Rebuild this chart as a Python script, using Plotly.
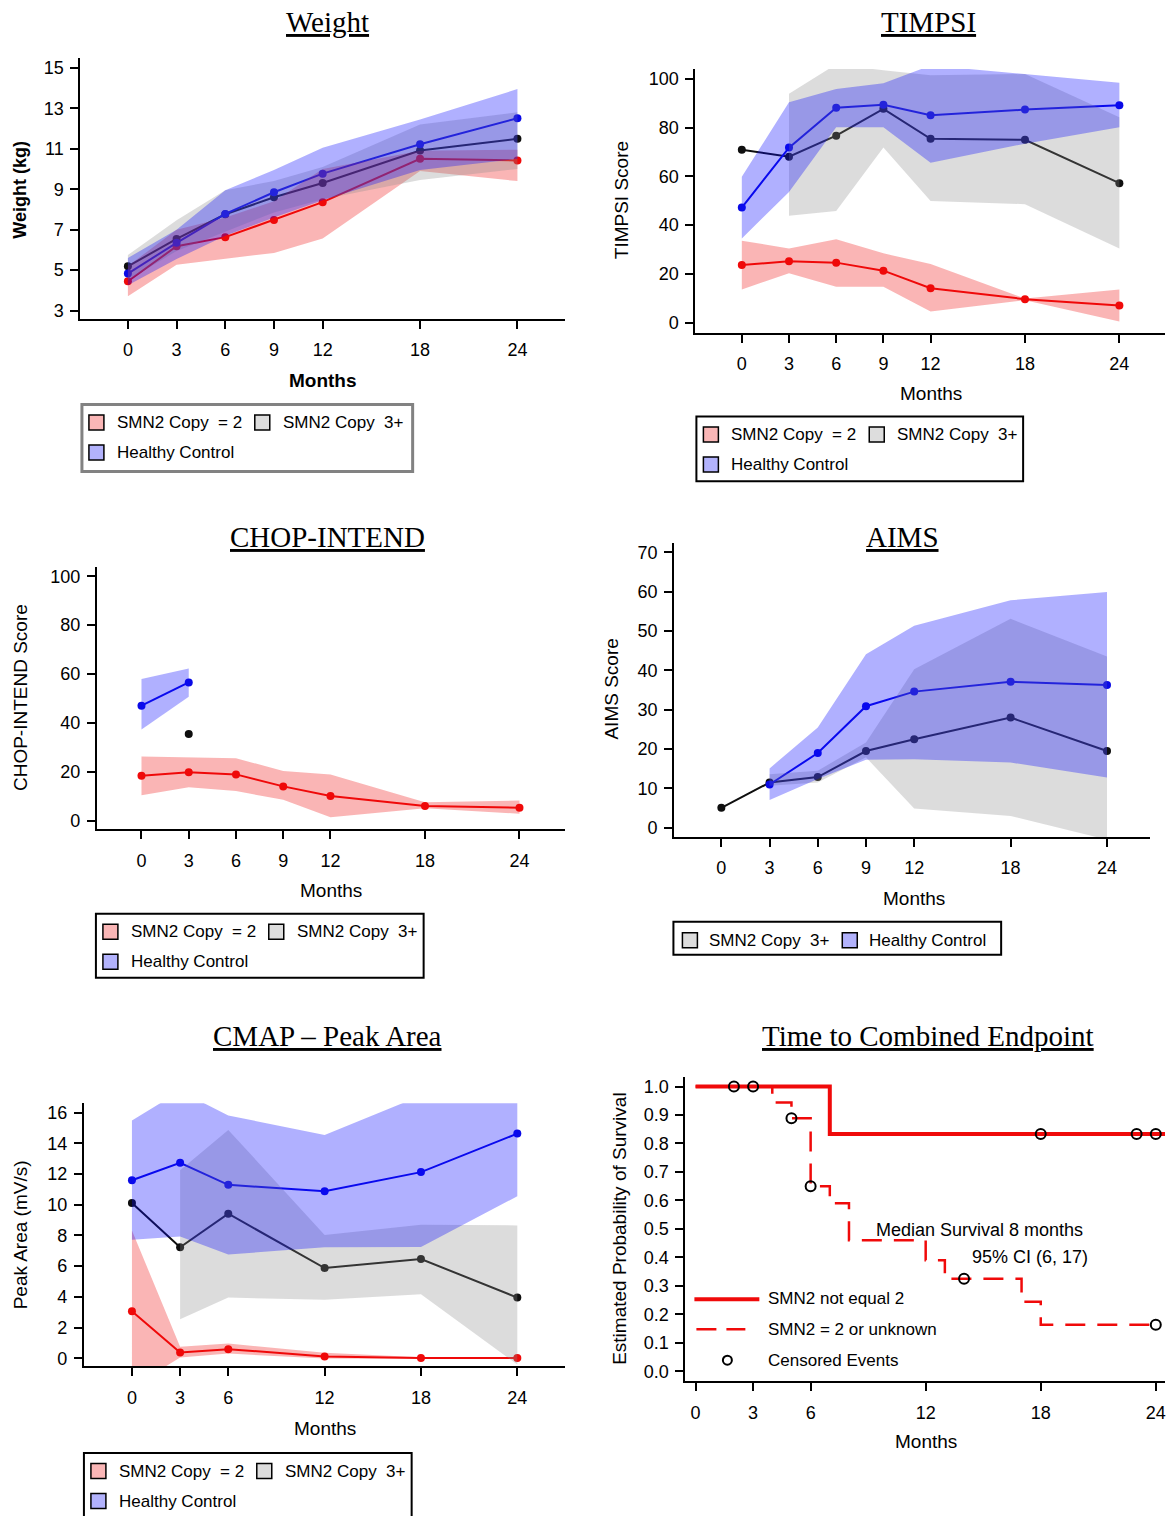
import plotly.graph_objects as go

W, H = 1166, 1516


def px(x):
    return x / W


def py(y):
    return 1 - y / H


# ---------------- data ----------------
months = [0, 3, 6, 9, 12, 18, 24]
cmap_months = [0, 3, 6, 12, 18, 24]

# Weight (kg)
wt_smn2_mean = [4.45, 6.18, 6.63, 7.48, 8.36, 10.50, 10.42]
wt_smn2_lo = [3.71, 5.27, 5.55, 5.85, 6.56, 9.90, 9.40]
wt_smn2_hi = [5.20, 7.00, 7.60, 8.40, 10.00, 10.90, 10.95]
wt_smn3_mean = [5.19, 6.54, 7.76, 8.60, 9.31, 10.91, 11.49]
wt_smn3_lo = [4.50, 5.95, 6.90, 7.85, 8.50, 9.45, 10.00]
wt_smn3_hi = [5.75, 7.47, 8.95, 9.40, 10.10, 12.20, 12.80]
wt_hc_mean = [4.83, 6.35, 7.78, 8.85, 9.77, 11.22, 12.51]
wt_hc_lo = [4.25, 5.55, 6.70, 7.60, 8.45, 9.95, 10.50]
wt_hc_hi = [5.60, 7.00, 8.95, 9.95, 11.05, 12.45, 13.95]

# TIMPSI score
ti_smn2_mean = [23.6, 25.2, 24.6, 21.3, 14.1, 9.6, 7.0]
ti_smn2_lo = [13.6, 20.2, 14.7, 14.7, 4.5, 9.2, 0.4]
ti_smn2_hi = [33.6, 30.4, 34.2, 28.4, 24.0, 9.9, 13.6]
ti_smn3_mean = [70.9, 68.1, 76.7, 87.7, 75.4, 75.0, 57.2]
ti_smn3_lo = [None, 43.8, 45.8, 71.8, 49.9, 48.6, 30.4]
ti_smn3_hi = [None, 93.9, 106.0, 103.5, 101.5, 102.0, 84.3]
ti_hc_mean = [47.2, 71.8, 88.2, 89.4, 85.1, 87.4, 89.2]
ti_hc_lo = [34.5, 53.6, 80.2, 80.2, 65.6, 73.4, 80.2]
ti_hc_hi = [59.8, 90.4, 95.9, 98.2, 105.5, 102.0, 98.4]

# CHOP-INTEND score
ch_smn2_mean = [18.4, 19.9, 19.0, 14.1, 10.2, 6.1, 5.4]
ch_smn2_lo = [10.5, 13.7, 12.2, 8.6, 1.5, 5.2, 2.9]
ch_smn2_hi = [26.3, 25.9, 25.6, 20.4, 19.0, 7.6, 8.3]
ch_smn3_mean = [None, 35.5, None, None, None, None, None]
ch_hc_mean = [47.1, 56.6, None, None, None, None, None]
ch_hc_lo = [37.4, 50.7, None, None, None, None, None]
ch_hc_hi = [58.0, 62.3, None, None, None, None, None]

# AIMS score
ai_smn3_mean = [5.1, 11.5, 12.9, 19.5, 22.5, 28.0, 19.5]
ai_smn3_lo = [None, 10.7, 11.5, 17.9, 4.9, 3.0, -3.0]
ai_smn3_hi = [None, 13.6, 14.5, 21.7, 40.3, 53.1, 43.5]
ai_hc_mean = [None, 11.0, 19.0, 30.9, 34.6, 37.1, 36.3]
ai_hc_lo = [None, 7.1, 12.4, 17.3, 17.4, 16.6, 12.8]
ai_hc_hi = [None, 15.1, 25.5, 44.1, 51.3, 57.8, 59.9]

# CMAP peak area (mV/s)
cm_smn2_mean = [3.06, 0.37, 0.59, 0.11, 0.02, 0.02]
cm_smn2_lo = [-1.9, 0.05, 0.30, -0.02, -0.05, -0.05]
cm_smn2_hi = [8.32, 0.74, 0.96, 0.35, 0.07, 0.07]
cm_smn3_mean = [10.11, 7.23, 9.41, 5.87, 6.46, 3.95]
cm_smn3_lo = [None, 2.53, 3.95, 3.80, 4.17, -0.41]
cm_smn3_hi = [None, 12.25, 14.87, 8.03, 8.69, 8.65]
cm_hc_mean = [11.59, 12.73, 11.29, 10.87, 12.12, 14.63]
cm_hc_lo = [7.71, 7.93, 6.75, 7.23, 7.25, 10.55]
cm_hc_hi = [15.48, 17.40, 15.81, 14.54, 17.10, 17.10]

# Kaplan-Meier: time to combined endpoint
km_a_t = [0, 7, 25]
km_a_s = [1.0, 0.833, 0.833]
km_a_cens_t = [2, 3, 18, 23, 24]
km_a_cens_s = [1.0, 1.0, 0.833, 0.833, 0.833]
km_b_t = [0, 4, 5, 6, 7, 8, 12, 13, 17, 18, 24]
km_b_s = [1.0, 0.944, 0.889, 0.65, 0.59, 0.46, 0.39, 0.325, 0.244, 0.163, 0.163]
km_b_cens_t = [5, 6, 14, 24]
km_b_cens_s = [0.889, 0.65, 0.325, 0.163]

# ---------------- styling ----------------
SANS = "Liberation Sans, Arial, sans-serif"
SERIF = "Liberation Serif, Times New Roman, serif"
RED = "rgb(240,10,10)"
BLUE = "rgb(10,10,230)"
BLACK = "rgb(15,15,15)"
RED_F = "rgba(240,10,10,0.3)"
GRAY_F = "rgba(140,140,140,0.3)"
BLUE_F = "rgba(10,10,255,0.32)"
RED_SQ = "rgb(250,182,182)"
GRAY_SQ = "rgb(221,221,221)"
BLUE_SQ = "rgb(178,178,252)"

fig = go.Figure()


def ax(i):
    n = "" if i == 1 else str(i)
    return "x" + n, "y" + n


def add_line(i, x, y, color):
    xa, ya = ax(i)
    fig.add_trace(go.Scatter(x=x, y=y, mode="lines+markers",
                             line=dict(color=color, width=2),
                             marker=dict(color=color, size=8),
                             connectgaps=False, showlegend=False,
                             hoverinfo="skip", xaxis=xa, yaxis=ya))


def add_band(i, x, lo, hi, color):
    xa, ya = ax(i)
    pts = [(a, l, h) for a, l, h in zip(x, lo, hi) if l is not None and h is not None]
    xs = [p[0] for p in pts] + [p[0] for p in reversed(pts)]
    ys = [p[2] for p in pts] + [p[1] for p in reversed(pts)]
    fig.add_trace(go.Scatter(x=xs, y=ys, mode="lines", fill="toself",
                             fillcolor=color, line=dict(width=0, color=color),
                             showlegend=False, hoverinfo="skip",
                             xaxis=xa, yaxis=ya))


# Panel 1: weight
add_line(1, months, wt_smn2_mean, RED)
add_line(1, months, wt_smn3_mean, BLACK)
add_line(1, months, wt_hc_mean, BLUE)
add_band(1, months, wt_smn2_lo, wt_smn2_hi, RED_F)
add_band(1, months, wt_smn3_lo, wt_smn3_hi, GRAY_F)
add_band(1, months, wt_hc_lo, wt_hc_hi, BLUE_F)

# Panel 2: TIMPSI
add_line(2, months, ti_smn2_mean, RED)
add_line(2, months, ti_smn3_mean, BLACK)
add_line(2, months, ti_hc_mean, BLUE)
add_band(2, months, ti_smn2_lo, ti_smn2_hi, RED_F)
add_band(2, months, ti_smn3_lo, ti_smn3_hi, GRAY_F)
add_band(2, months, ti_hc_lo, ti_hc_hi, BLUE_F)

# Panel 3: CHOP-INTEND
add_line(3, months, ch_smn2_mean, RED)
add_line(3, months, ch_smn3_mean, BLACK)
add_line(3, months, ch_hc_mean, BLUE)
add_band(3, months, ch_smn2_lo, ch_smn2_hi, RED_F)
add_band(3, months, ch_hc_lo, ch_hc_hi, BLUE_F)

# Panel 4: AIMS
add_line(4, months, ai_smn3_mean, BLACK)
add_line(4, months, ai_hc_mean, BLUE)
add_band(4, months, ai_smn3_lo, ai_smn3_hi, GRAY_F)
add_band(4, months, ai_hc_lo, ai_hc_hi, BLUE_F)

# Panel 5: CMAP
add_line(5, cmap_months, cm_smn2_mean, RED)
add_line(5, cmap_months, cm_smn3_mean, BLACK)
add_line(5, cmap_months, cm_hc_mean, BLUE)
add_band(5, cmap_months, cm_smn2_lo, cm_smn2_hi, RED_F)
add_band(5, cmap_months, cm_smn3_lo, cm_smn3_hi, GRAY_F)
add_band(5, cmap_months, cm_hc_lo, cm_hc_hi, BLUE_F)

# Panel 6: Kaplan-Meier
fig.add_trace(go.Scatter(x=km_b_t, y=km_b_s, mode="lines", line_shape="hv",
                         line=dict(color=RED, width=2.5, dash="20px,12px"),
                         showlegend=False, hoverinfo="skip", xaxis="x6", yaxis="y6"))
fig.add_trace(go.Scatter(x=km_a_t, y=km_a_s, mode="lines", line_shape="hv",
                         line=dict(color=RED, width=4),
                         showlegend=False, hoverinfo="skip", xaxis="x6", yaxis="y6"))
fig.add_trace(go.Scatter(x=km_a_cens_t + km_b_cens_t, y=km_a_cens_s + km_b_cens_s,
                         mode="markers",
                         marker=dict(symbol="circle-open", size=10, color="black",
                                     line=dict(width=2, color="black")),
                         showlegend=False, hoverinfo="skip", xaxis="x6", yaxis="y6"))

# ---------------- axes ----------------
panels = [
    dict(box=(80.4, 58, 565, 319.3), xr=[-2.93, 26.9], yr=[2.59, 15.49],
         xt=months, yt=[3, 5, 7, 9, 11, 13, 15], fmt=None),
    dict(box=(696, 69, 1166, 333), xr=[-2.95, 26.9], yr=[-4.1, 104.1],
         xt=months, yt=[0, 20, 40, 60, 80, 100], fmt=None),
    dict(box=(97, 567.7, 565, 830.3), xr=[-2.83, 26.86], yr=[-3.4, 103.8],
         xt=months, yt=[0, 20, 40, 60, 80, 100], fmt=None),
    dict(box=(674.7, 543.5, 1150.9, 838), xr=[-2.94, 26.67], yr=[-2.3, 72.4],
         xt=months, yt=[0, 10, 20, 30, 40, 50, 60, 70], fmt=None),
    dict(box=(84, 1104.8, 565, 1368), xr=[-2.99, 26.94], yr=[-0.52, 16.6],
         xt=cmap_months, yt=[0, 2, 4, 6, 8, 10, 12, 14, 16], fmt=None),
    dict(box=(686, 1078, 1166, 1383), xr=[-0.53, 24.48], yr=[-0.035, 1.035],
         xt=[0, 3, 6, 12, 18, 24], yt=[0.0, 0.1, 0.2, 0.3, 0.4, 0.5, 0.6, 0.7, 0.8, 0.9, 1.0],
         fmt=".1f"),
]

layout = dict(width=W, height=H, margin=dict(l=0, r=0, t=0, b=0),
              paper_bgcolor="white", plot_bgcolor="white", showlegend=False,
              font=dict(family=SANS, size=18, color="black"))

for i, p in enumerate(panels, start=1):
    n = "" if i == 1 else str(i)
    x0, y0, x1, y1 = p["box"]
    common = dict(ticks="outside", ticklen=8, tickwidth=2, tickcolor="black",
                  showline=True, linewidth=2, linecolor="black", showgrid=False,
                  zeroline=False, tickfont=dict(family=SANS, size=18, color="black"),
                  fixedrange=True, ticklabeloverflow="allow")
    layout["xaxis" + n] = dict(domain=[px(x0), px(x1)], range=p["xr"], anchor="y" + n,
                               tickmode="array", tickvals=p["xt"],
                               ticklabelstandoff=6, **common)
    ya = dict(domain=[py(y1), py(y0)], range=p["yr"], anchor="x" + n,
              tickmode="array", tickvals=p["yt"], ticklabelstandoff=3, **common)
    if p["fmt"]:
        ya["tickformat"] = p["fmt"]
    layout["yaxis" + n] = ya

fig.update_layout(**layout)

annotations = []
shapes = []


def text(x, y, s, size=18, family=SANS, angle=0, anchor="center"):
    annotations.append(dict(x=px(x), y=py(y), xref="paper", yref="paper", text=s,
                            showarrow=False, textangle=angle, xanchor=anchor,
                            yanchor="middle", font=dict(family=family, size=size, color="black")))


# titles
titles = [(328, 22, "Weight"), (929, 22, "TIMPSI"), (328, 538, "CHOP-INTEND"),
          (903, 538, "AIMS"), (328, 1037, "CMAP \u2013 Peak Area"),
          (929, 1037, "Time to Combined Endpoint")]
for x, y, s in titles:
    text(x, y, "<u>" + s + "</u>", size=29, family=SERIF)

# axis titles
text(323, 381, "<b>Months</b>", 19)
text(932, 394, "Months", 19)
text(331, 892, "Months", 19)
text(915, 900, "Months", 19)
text(325, 1430, "Months", 19)
text(927, 1443, "Months", 19)
text(20, 190, "<b>Weight (kg)</b>", 18, angle=-90)
text(622, 200, "TIMPSI Score", 19, angle=-90)
text(20, 698, "CHOP-INTEND Score", 19, angle=-90)
text(612, 690, "AIMS Score", 19, angle=-90)
text(20, 1236, "Peak Area (mV/s)", 19, angle=-90)
text(620, 1230, "Estimated Probability of Survival", 19, angle=-90)

# legends
NB = "\u00a0"
L1 = "SMN2 Copy" + NB + " = 2"
L2 = "SMN2 Copy" + NB + " 3+"
L3 = "Healthy" + NB + "Control"


def rect(x0, y0, x1, y1, line_color="black", lw=1.5, fill=None):
    shapes.append(dict(type="rect", xref="paper", yref="paper",
                       x0=px(x0), x1=px(x1), y0=py(y1), y1=py(y0),
                       line=dict(color=line_color, width=lw),
                       fillcolor=fill if fill else "rgba(0,0,0,0)"))


def square(x, yc, fill):
    rect(x, yc - 7.5, x + 15, yc + 7.5, "black", 1.5, fill)


def legend3(left, top, right, bottom, color, lw):
    rect(left, top, right, bottom, color, lw)
    r1, r2 = top + 18, top + 48
    square(left + 7, r1, RED_SQ)
    text(left + 33, r1, L1, 17, anchor="left")
    square(left + 173, r1, GRAY_SQ)
    text(left + 199, r1, L2, 17, anchor="left")
    square(left + 7, r2, BLUE_SQ)
    text(left + 33, r2, L3, 17, anchor="left")


legend3(82, 405, 413, 472, "rgb(130,130,130)", 3)
legend3(697, 417, 1024, 482, "black", 2)
legend3(96, 915, 424, 979, "black", 2)
legend3(84, 1455, 412, 1530, "black", 2)

rect(674, 923, 1002, 956, "black", 2)
square(683, 941.5, GRAY_SQ)
text(708, 941.5, L2, 17, anchor="left")
square(843, 941.5, BLUE_SQ)
text(868, 941.5, L3, 17, anchor="left")

# KM legend and annotation
shapes.append(dict(type="line", xref="paper", yref="paper", x0=px(695), x1=px(760),
                   y0=py(1301), y1=py(1301), line=dict(color=RED, width=4)))
shapes.append(dict(type="line", xref="paper", yref="paper", x0=px(697), x1=px(746),
                   y0=py(1331), y1=py(1331), line=dict(color=RED, width=2.5, dash="20px,10px")))
shapes.append(dict(type="circle", xref="paper", yref="paper", x0=px(723.5), x1=px(732.5),
                   y0=py(1366.5), y1=py(1357.5), line=dict(color="black", width=2)))
text(767, 1300, "SMN2 not equal 2", 17, anchor="left")
text(767, 1331, "SMN2 = 2 or unknown", 17, anchor="left")
text(767, 1362, "Censored Events", 17, anchor="left")
text(875, 1232, "Median Survival 8 months", 18, anchor="left")
text(971, 1259, "95% CI (6, 17)", 18, anchor="left")

fig.update_layout(annotations=annotations, shapes=shapes)

fig.write_html("out.html", config={"displayModeBar": False},
               post_script="document.body.style.margin='0px';")
